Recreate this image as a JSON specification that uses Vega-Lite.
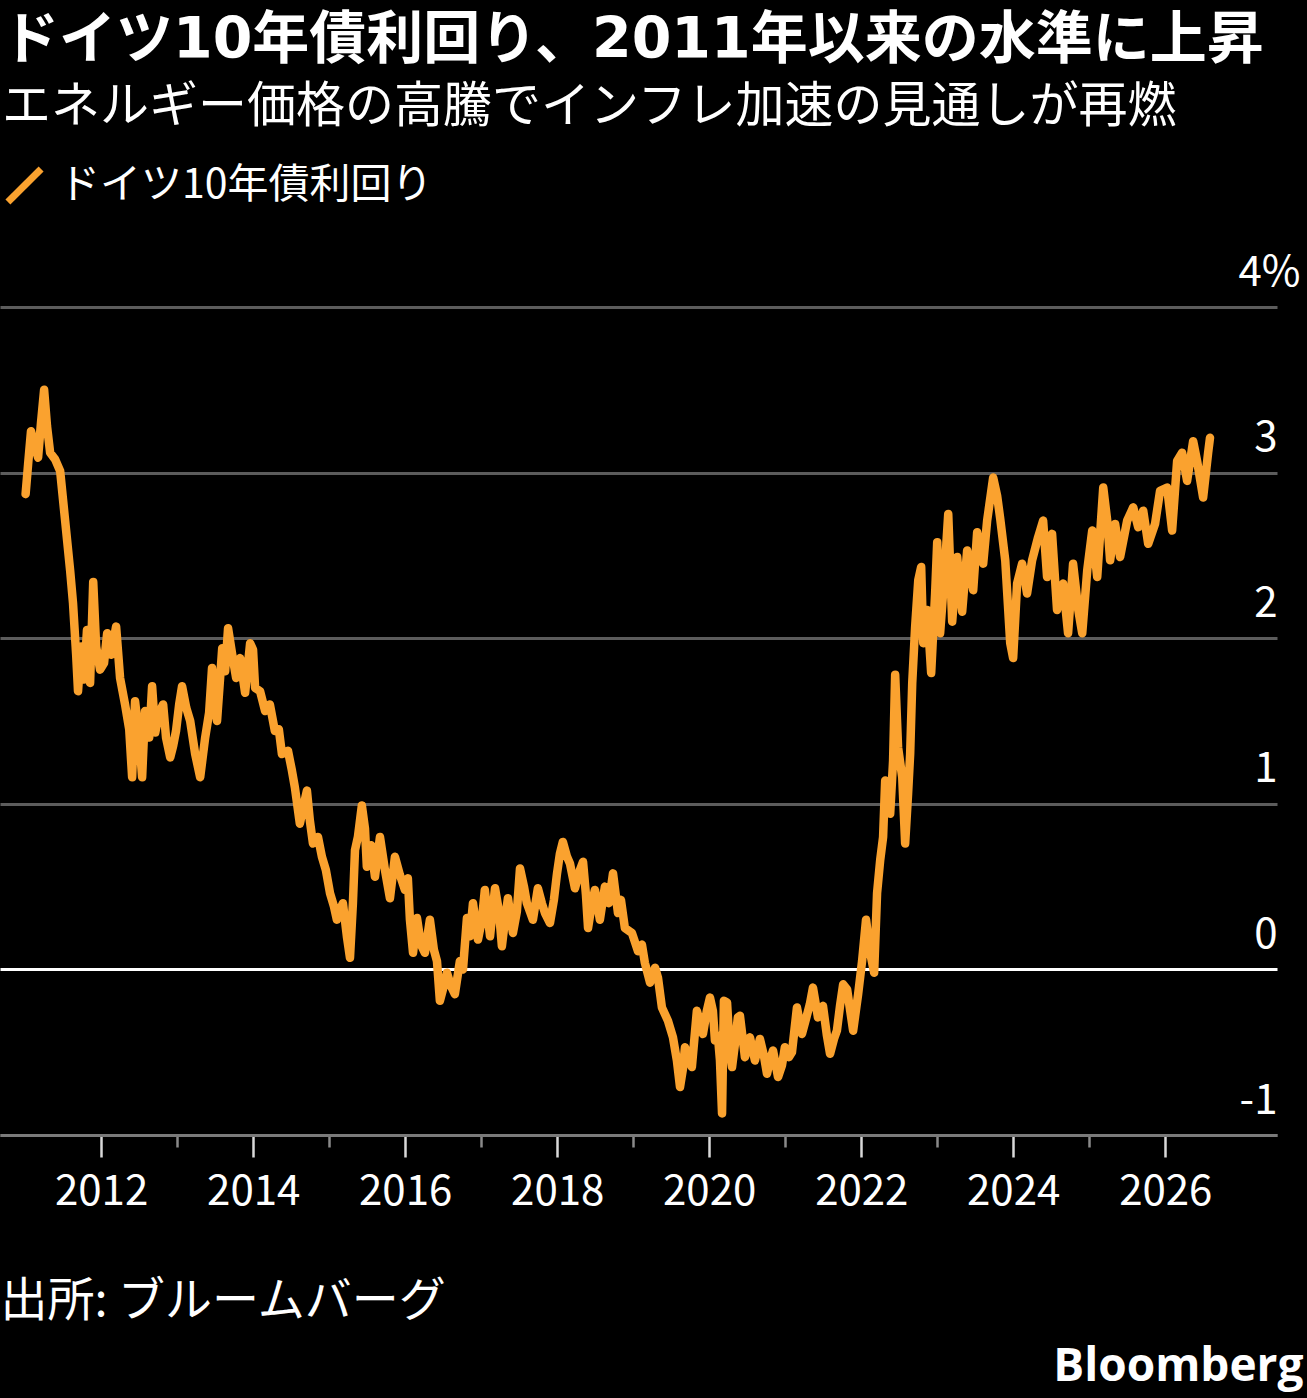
{
  "$schema": "https://vega.github.io/schema/vega-lite/v6.json",
  "width": 1277,
  "height": 828,
  "autosize": {"type": "none"},
  "padding": {"left": 0, "top": 307, "right": 30, "bottom": 263},
  "background": "#000000",
  "view": {"stroke": null},
  "title": {
    "text": "ドイツ10年債利回り、2011年以来の水準に上昇",
    "subtitle": "エネルギー価格の高騰でインフレ加速の見通しが再燃",
    "anchor": "start",
    "frame": "group",
    "orient": "top",
    "offset": 32,
    "dx": 2,
    "font": "DejaVu Sans, Noto Sans CJK JP",
    "fontSize": 57,
    "fontWeight": "bold",
    "color": "#ffffff",
    "subtitleFont": "Noto Sans CJK JP",
    "subtitleFontSize": 49,
    "subtitleFontWeight": "normal",
    "subtitleColor": "#ffffff",
    "subtitlePadding": 13
  },
  "data": {
    "values": [
      {"date": "2011-01-03", "yield": 2.87}, {"date": "2011-01-15", "yield": 3.05}, {"date": "2011-01-29", "yield": 3.25},
      {"date": "2011-02-12", "yield": 3.18}, {"date": "2011-03-04", "yield": 3.09}, {"date": "2011-03-18", "yield": 3.30},
      {"date": "2011-04-02", "yield": 3.50}, {"date": "2011-04-16", "yield": 3.28}, {"date": "2011-05-01", "yield": 3.12},
      {"date": "2011-05-25", "yield": 3.08}, {"date": "2011-06-18", "yield": 3.01}, {"date": "2011-07-12", "yield": 2.71},
      {"date": "2011-08-05", "yield": 2.41}, {"date": "2011-08-19", "yield": 2.21}, {"date": "2011-09-03", "yield": 1.90},
      {"date": "2011-09-12", "yield": 1.68}, {"date": "2011-09-27", "yield": 1.95}, {"date": "2011-10-11", "yield": 1.75},
      {"date": "2011-10-25", "yield": 2.05}, {"date": "2011-11-09", "yield": 1.73}, {"date": "2011-11-24", "yield": 2.34},
      {"date": "2011-12-08", "yield": 1.95}, {"date": "2011-12-27", "yield": 1.81}, {"date": "2012-01-15", "yield": 1.85},
      {"date": "2012-01-30", "yield": 2.03}, {"date": "2012-02-18", "yield": 1.90}, {"date": "2012-03-13", "yield": 2.07},
      {"date": "2012-04-01", "yield": 1.76}, {"date": "2012-04-25", "yield": 1.60}, {"date": "2012-05-15", "yield": 1.45},
      {"date": "2012-05-29", "yield": 1.16}, {"date": "2012-06-12", "yield": 1.62}, {"date": "2012-07-02", "yield": 1.40},
      {"date": "2012-07-16", "yield": 1.16}, {"date": "2012-07-30", "yield": 1.56}, {"date": "2012-08-19", "yield": 1.40},
      {"date": "2012-09-02", "yield": 1.71}, {"date": "2012-09-17", "yield": 1.43}, {"date": "2012-10-06", "yield": 1.55},
      {"date": "2012-10-25", "yield": 1.60}, {"date": "2012-11-08", "yield": 1.40}, {"date": "2012-11-28", "yield": 1.28},
      {"date": "2012-12-12", "yield": 1.35}, {"date": "2012-12-26", "yield": 1.44}, {"date": "2013-01-10", "yield": 1.60},
      {"date": "2013-01-24", "yield": 1.71}, {"date": "2013-02-13", "yield": 1.58}, {"date": "2013-03-04", "yield": 1.50},
      {"date": "2013-03-28", "yield": 1.30}, {"date": "2013-04-21", "yield": 1.16}, {"date": "2013-05-15", "yield": 1.40},
      {"date": "2013-06-03", "yield": 1.55}, {"date": "2013-06-17", "yield": 1.82}, {"date": "2013-07-11", "yield": 1.50},
      {"date": "2013-08-05", "yield": 1.94}, {"date": "2013-08-19", "yield": 1.80}, {"date": "2013-09-02", "yield": 2.06},
      {"date": "2013-09-22", "yield": 1.90}, {"date": "2013-10-11", "yield": 1.76}, {"date": "2013-10-30", "yield": 1.88},
      {"date": "2013-11-23", "yield": 1.67}, {"date": "2013-12-17", "yield": 1.97}, {"date": "2013-12-31", "yield": 1.93},
      {"date": "2014-01-10", "yield": 1.70}, {"date": "2014-02-03", "yield": 1.68}, {"date": "2014-02-27", "yield": 1.56},
      {"date": "2014-03-22", "yield": 1.60}, {"date": "2014-04-15", "yield": 1.44}, {"date": "2014-05-04", "yield": 1.45},
      {"date": "2014-05-19", "yield": 1.30}, {"date": "2014-06-17", "yield": 1.32}, {"date": "2014-07-06", "yield": 1.20},
      {"date": "2014-07-20", "yield": 1.10}, {"date": "2014-08-13", "yield": 0.88}, {"date": "2014-09-02", "yield": 1.00},
      {"date": "2014-09-16", "yield": 1.08}, {"date": "2014-09-30", "yield": 0.90}, {"date": "2014-10-15", "yield": 0.76},
      {"date": "2014-11-08", "yield": 0.80}, {"date": "2014-11-27", "yield": 0.68}, {"date": "2014-12-16", "yield": 0.60},
      {"date": "2015-01-05", "yield": 0.46}, {"date": "2015-01-24", "yield": 0.38}, {"date": "2015-02-07", "yield": 0.30},
      {"date": "2015-02-22", "yield": 0.36}, {"date": "2015-03-08", "yield": 0.40}, {"date": "2015-03-27", "yield": 0.20},
      {"date": "2015-04-11", "yield": 0.07}, {"date": "2015-04-25", "yield": 0.40}, {"date": "2015-05-05", "yield": 0.72},
      {"date": "2015-05-19", "yield": 0.80}, {"date": "2015-06-07", "yield": 0.99}, {"date": "2015-06-22", "yield": 0.85},
      {"date": "2015-07-01", "yield": 0.62}, {"date": "2015-07-21", "yield": 0.75}, {"date": "2015-08-09", "yield": 0.56},
      {"date": "2015-09-02", "yield": 0.80}, {"date": "2015-09-26", "yield": 0.60}, {"date": "2015-10-20", "yield": 0.43},
      {"date": "2015-11-13", "yield": 0.68}, {"date": "2015-12-07", "yield": 0.57}, {"date": "2015-12-31", "yield": 0.48},
      {"date": "2016-01-14", "yield": 0.55}, {"date": "2016-01-24", "yield": 0.30}, {"date": "2016-02-08", "yield": 0.10},
      {"date": "2016-02-27", "yield": 0.31}, {"date": "2016-03-17", "yield": 0.15}, {"date": "2016-04-05", "yield": 0.10},
      {"date": "2016-04-29", "yield": 0.30}, {"date": "2016-05-18", "yield": 0.12}, {"date": "2016-06-02", "yield": 0.05},
      {"date": "2016-06-16", "yield": -0.19}, {"date": "2016-07-05", "yield": -0.10}, {"date": "2016-07-20", "yield": -0.02},
      {"date": "2016-08-08", "yield": -0.10}, {"date": "2016-08-27", "yield": -0.15}, {"date": "2016-09-20", "yield": 0.05},
      {"date": "2016-10-05", "yield": 0.00}, {"date": "2016-10-24", "yield": 0.31}, {"date": "2016-11-07", "yield": 0.20},
      {"date": "2016-11-22", "yield": 0.40}, {"date": "2016-12-16", "yield": 0.18}, {"date": "2017-01-04", "yield": 0.30},
      {"date": "2017-01-18", "yield": 0.48}, {"date": "2017-02-12", "yield": 0.20}, {"date": "2017-03-08", "yield": 0.49},
      {"date": "2017-03-27", "yield": 0.35}, {"date": "2017-04-10", "yield": 0.14}, {"date": "2017-04-25", "yield": 0.30},
      {"date": "2017-05-09", "yield": 0.43}, {"date": "2017-06-02", "yield": 0.22}, {"date": "2017-06-21", "yield": 0.35},
      {"date": "2017-07-06", "yield": 0.61}, {"date": "2017-07-25", "yield": 0.50}, {"date": "2017-08-08", "yield": 0.40},
      {"date": "2017-09-06", "yield": 0.30}, {"date": "2017-09-30", "yield": 0.49}, {"date": "2017-10-19", "yield": 0.40},
      {"date": "2017-11-03", "yield": 0.34}, {"date": "2017-11-27", "yield": 0.28}, {"date": "2017-12-16", "yield": 0.42},
      {"date": "2017-12-31", "yield": 0.58}, {"date": "2018-01-14", "yield": 0.70}, {"date": "2018-01-28", "yield": 0.77},
      {"date": "2018-02-17", "yield": 0.68}, {"date": "2018-03-03", "yield": 0.64}, {"date": "2018-03-27", "yield": 0.49},
      {"date": "2018-04-20", "yield": 0.60}, {"date": "2018-05-05", "yield": 0.65}, {"date": "2018-05-19", "yield": 0.45},
      {"date": "2018-05-29", "yield": 0.25}, {"date": "2018-06-17", "yield": 0.40}, {"date": "2018-07-01", "yield": 0.48},
      {"date": "2018-07-25", "yield": 0.30}, {"date": "2018-08-18", "yield": 0.50}, {"date": "2018-09-06", "yield": 0.40},
      {"date": "2018-09-26", "yield": 0.58}, {"date": "2018-10-20", "yield": 0.34}, {"date": "2018-11-03", "yield": 0.42},
      {"date": "2018-11-22", "yield": 0.25}, {"date": "2018-12-26", "yield": 0.22}, {"date": "2019-01-24", "yield": 0.11},
      {"date": "2019-02-12", "yield": 0.15}, {"date": "2019-02-26", "yield": 0.04}, {"date": "2019-03-23", "yield": -0.08},
      {"date": "2019-04-16", "yield": 0.01}, {"date": "2019-04-30", "yield": -0.05}, {"date": "2019-05-19", "yield": -0.23},
      {"date": "2019-06-17", "yield": -0.31}, {"date": "2019-07-11", "yield": -0.41}, {"date": "2019-07-30", "yield": -0.55},
      {"date": "2019-08-14", "yield": -0.71}, {"date": "2019-08-28", "yield": -0.60}, {"date": "2019-09-07", "yield": -0.47},
      {"date": "2019-09-26", "yield": -0.55}, {"date": "2019-10-10", "yield": -0.59}, {"date": "2019-11-03", "yield": -0.25},
      {"date": "2019-11-18", "yield": -0.32}, {"date": "2019-12-02", "yield": -0.39}, {"date": "2019-12-21", "yield": -0.25},
      {"date": "2020-01-05", "yield": -0.17}, {"date": "2020-01-19", "yield": -0.25}, {"date": "2020-01-29", "yield": -0.43},
      {"date": "2020-02-12", "yield": -0.40}, {"date": "2020-02-22", "yield": -0.55}, {"date": "2020-03-03", "yield": -0.87},
      {"date": "2020-03-12", "yield": -0.19}, {"date": "2020-03-27", "yield": -0.20}, {"date": "2020-04-10", "yield": -0.50},
      {"date": "2020-04-20", "yield": -0.59}, {"date": "2020-05-04", "yield": -0.45}, {"date": "2020-05-18", "yield": -0.29},
      {"date": "2020-05-28", "yield": -0.28}, {"date": "2020-06-21", "yield": -0.53}, {"date": "2020-07-15", "yield": -0.41},
      {"date": "2020-08-08", "yield": -0.55}, {"date": "2020-09-01", "yield": -0.42}, {"date": "2020-09-20", "yield": -0.52},
      {"date": "2020-10-05", "yield": -0.63}, {"date": "2020-10-19", "yield": -0.55}, {"date": "2020-11-03", "yield": -0.49},
      {"date": "2020-11-27", "yield": -0.65}, {"date": "2020-12-16", "yield": -0.58}, {"date": "2020-12-30", "yield": -0.47},
      {"date": "2021-01-18", "yield": -0.53}, {"date": "2021-02-02", "yield": -0.50}, {"date": "2021-02-26", "yield": -0.23},
      {"date": "2021-03-22", "yield": -0.39}, {"date": "2021-04-10", "yield": -0.30}, {"date": "2021-04-29", "yield": -0.21},
      {"date": "2021-05-14", "yield": -0.11}, {"date": "2021-06-07", "yield": -0.29}, {"date": "2021-07-01", "yield": -0.22},
      {"date": "2021-07-20", "yield": -0.40}, {"date": "2021-08-04", "yield": -0.51}, {"date": "2021-08-23", "yield": -0.42},
      {"date": "2021-09-06", "yield": -0.37}, {"date": "2021-09-21", "yield": -0.22}, {"date": "2021-10-06", "yield": -0.09},
      {"date": "2021-10-25", "yield": -0.12}, {"date": "2021-11-09", "yield": -0.25}, {"date": "2021-11-23", "yield": -0.37},
      {"date": "2021-12-17", "yield": -0.15}, {"date": "2022-01-05", "yield": 0.05}, {"date": "2022-01-24", "yield": 0.30},
      {"date": "2022-02-13", "yield": 0.10}, {"date": "2022-03-04", "yield": -0.02}, {"date": "2022-03-18", "yield": 0.46},
      {"date": "2022-04-02", "yield": 0.66}, {"date": "2022-04-16", "yield": 0.80}, {"date": "2022-04-26", "yield": 1.14},
      {"date": "2022-05-10", "yield": 1.00}, {"date": "2022-05-20", "yield": 0.94}, {"date": "2022-06-03", "yield": 1.26},
      {"date": "2022-06-13", "yield": 1.78}, {"date": "2022-06-27", "yield": 1.34}, {"date": "2022-07-17", "yield": 1.16},
      {"date": "2022-07-31", "yield": 0.76}, {"date": "2022-08-14", "yield": 1.06}, {"date": "2022-08-24", "yield": 1.30},
      {"date": "2022-09-03", "yield": 1.73}, {"date": "2022-09-17", "yield": 2.07}, {"date": "2022-10-02", "yield": 2.35},
      {"date": "2022-10-16", "yield": 2.43}, {"date": "2022-10-26", "yield": 1.97}, {"date": "2022-11-14", "yield": 2.17},
      {"date": "2022-12-03", "yield": 1.79}, {"date": "2022-12-22", "yield": 2.27}, {"date": "2023-01-01", "yield": 2.58},
      {"date": "2023-01-15", "yield": 2.03}, {"date": "2023-02-03", "yield": 2.35}, {"date": "2023-02-23", "yield": 2.75},
      {"date": "2023-03-14", "yield": 2.10}, {"date": "2023-04-07", "yield": 2.49}, {"date": "2023-05-01", "yield": 2.16},
      {"date": "2023-05-25", "yield": 2.53}, {"date": "2023-06-23", "yield": 2.29}, {"date": "2023-07-12", "yield": 2.64},
      {"date": "2023-08-10", "yield": 2.45}, {"date": "2023-08-29", "yield": 2.71}, {"date": "2023-09-27", "yield": 2.97},
      {"date": "2023-10-16", "yield": 2.86}, {"date": "2023-10-31", "yield": 2.72}, {"date": "2023-11-24", "yield": 2.47},
      {"date": "2023-12-18", "yield": 1.97}, {"date": "2024-01-01", "yield": 1.88}, {"date": "2024-01-20", "yield": 2.33},
      {"date": "2024-02-13", "yield": 2.45}, {"date": "2024-03-08", "yield": 2.27}, {"date": "2024-04-01", "yield": 2.47},
      {"date": "2024-04-30", "yield": 2.61}, {"date": "2024-05-24", "yield": 2.71}, {"date": "2024-06-12", "yield": 2.37},
      {"date": "2024-07-06", "yield": 2.63}, {"date": "2024-07-30", "yield": 2.17}, {"date": "2024-08-28", "yield": 2.33},
      {"date": "2024-09-21", "yield": 2.03}, {"date": "2024-10-15", "yield": 2.45}, {"date": "2024-11-09", "yield": 2.17},
      {"date": "2024-11-28", "yield": 2.03}, {"date": "2024-12-22", "yield": 2.41}, {"date": "2025-01-15", "yield": 2.65},
      {"date": "2025-02-08", "yield": 2.37}, {"date": "2025-03-09", "yield": 2.91}, {"date": "2025-03-28", "yield": 2.71},
      {"date": "2025-04-11", "yield": 2.47}, {"date": "2025-05-05", "yield": 2.69}, {"date": "2025-05-29", "yield": 2.49},
      {"date": "2025-07-02", "yield": 2.71}, {"date": "2025-07-31", "yield": 2.79}, {"date": "2025-08-24", "yield": 2.67},
      {"date": "2025-09-17", "yield": 2.77}, {"date": "2025-10-11", "yield": 2.57}, {"date": "2025-11-13", "yield": 2.69},
      {"date": "2025-12-07", "yield": 2.89}, {"date": "2026-01-10", "yield": 2.91}, {"date": "2026-02-03", "yield": 2.65},
      {"date": "2026-02-27", "yield": 3.07}, {"date": "2026-03-23", "yield": 3.12}, {"date": "2026-04-16", "yield": 2.95},
      {"date": "2026-05-15", "yield": 3.19}, {"date": "2026-06-03", "yield": 3.07}, {"date": "2026-07-02", "yield": 2.85},
      {"date": "2026-07-26", "yield": 3.12}, {"date": "2026-08-04", "yield": 3.21}
    ]
  },
  "mark": {"type": "line", "strokeWidth": 8.5, "strokeJoin": "round", "strokeCap": "round"},
  "encoding": {
    "x": {
      "field": "date",
      "type": "temporal",
      "scale": {"domain": [{"year": 2010, "month": 9, "date": 2}, {"year": 2027, "month": 6, "date": 22}]},
      "axis": {
        "values": [
          {"year": 2012, "month": 1, "date": 1}, {"year": 2013, "month": 1, "date": 1}, {"year": 2014, "month": 1, "date": 1},
          {"year": 2015, "month": 1, "date": 1}, {"year": 2016, "month": 1, "date": 1}, {"year": 2017, "month": 1, "date": 1},
          {"year": 2018, "month": 1, "date": 1}, {"year": 2019, "month": 1, "date": 1}, {"year": 2020, "month": 1, "date": 1},
          {"year": 2021, "month": 1, "date": 1}, {"year": 2022, "month": 1, "date": 1}, {"year": 2023, "month": 1, "date": 1},
          {"year": 2024, "month": 1, "date": 1}, {"year": 2025, "month": 1, "date": 1}, {"year": 2026, "month": 1, "date": 1}
        ],
        "labelExpr": "year(datum.value) % 2 == 0 ? timeFormat(datum.value, '%Y') : ''",
        "tickSize": {"condition": {"test": "year(datum.value) % 2 == 0", "value": 22}, "value": 12},
        "tickColor": {"condition": {"test": "year(datum.value) % 2 == 0", "value": "#d9d9d9"}, "value": "#8a8a8a"},
        "tickWidth": 2.5,
        "domainColor": "#7a7a7a",
        "domainWidth": 3,
        "grid": false,
        "labelFont": "Noto Sans CJK JP",
        "labelFontSize": 42,
        "labelColor": "#ffffff",
        "labelPadding": 14,
        "labelFlush": false,
        "labelOverlap": false,
        "title": "出所: ブルームバーグ",
        "titleX": 0,
        "titleY": 180,
        "titleAlign": "left",
        "titleAnchor": "start",
        "titleBaseline": "alphabetic",
        "titleFont": "Noto Sans CJK JP",
        "titleFontSize": 47,
        "titleFontWeight": "normal",
        "titleColor": "#ffffff"
      }
    },
    "y": {
      "field": "yield",
      "type": "quantitative",
      "scale": {"domain": [-1, 4], "nice": false, "zero": false},
      "axis": {
        "orient": "right",
        "values": [-1, 0, 1, 2, 3, 4],
        "labelExpr": "datum.value == 4 ? '4%' : (datum.value < 0 ? '-' + abs(datum.value) : '' + datum.value)",
        "domain": false,
        "ticks": false,
        "grid": true,
        "gridColor": {"condition": {"test": "datum.value == 0", "value": "#ffffff"}, "value": "#5c5c5c"},
        "gridWidth": 3,
        "labelAlign": "right",
        "labelBaseline": "alphabetic",
        "labelPadding": {"condition": {"test": "datum.value == 4", "value": 23}, "value": 0},
        "labelOffset": -22,
        "labelFont": "Noto Sans CJK JP",
        "labelFontSize": 42,
        "labelColor": "#ffffff",
        "labelFlush": false,
        "labelBound": false,
        "labelOverlap": false,
        "title": "Bloomberg",
        "titleAngle": 0,
        "titleX": 26,
        "titleY": 1073,
        "titleAlign": "right",
        "titleBaseline": "alphabetic",
        "titleFont": "Open Sans",
        "titleFontSize": 46,
        "titleFontWeight": "bold",
        "titleColor": "#ffffff"
      }
    },
    "color": {
      "datum": "ドイツ10年債利回り",
      "scale": {"range": ["#FAA22F"]},
      "legend": {
        "orient": "none",
        "legendX": 4,
        "legendY": -142,
        "title": null,
        "padding": 0,
        "symbolType": "M-1,1L1,-1",
        "symbolSize": 1100,
        "symbolStrokeWidth": 7,
        "labelFont": "Noto Sans CJK JP",
        "labelFontSize": 41,
        "labelColor": "#ffffff",
        "labelOffset": 14,
        "labelLimit": 0
      }
    }
  }
}
